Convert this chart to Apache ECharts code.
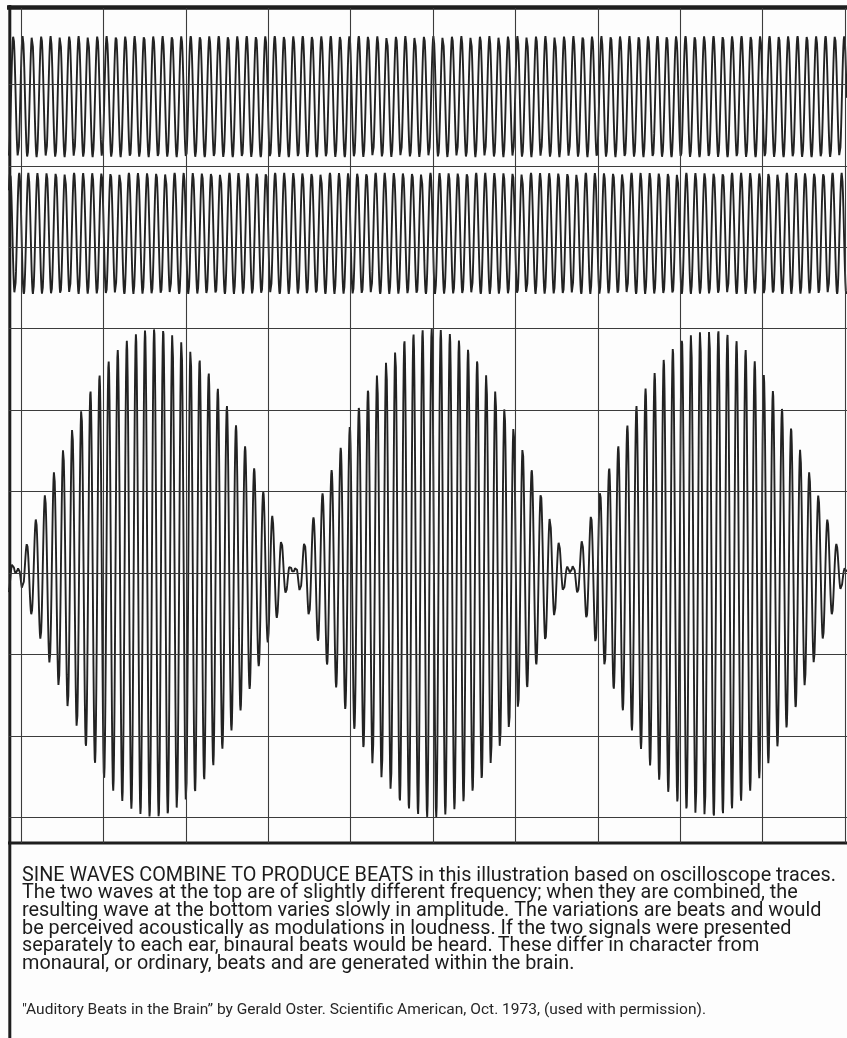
<!DOCTYPE html>
<html>
<head>
<meta charset="utf-8">
<script src="https://cdn.jsdelivr.net/npm/echarts@6/dist/echarts.min.js"></script>
<style>
  html, body { margin: 0; padding: 0; background: #fdfdfd; }
  #chart { width: 847px; height: 1038px; }
</style>
</head>
<body>
<div id="chart"></div>
<script>
// ---- data (units: oscilloscope divisions) ----
const verticalGridDivs = [0, 1, 2, 3, 4, 5, 6, 7, 8, 9, 10];
const horizontalGridDivs = [-3, -2, -1, 0, 1, 2, 3, 4, 5, 6];
const traceNames = ['Wave 1', 'Wave 2', 'Wave 1 + Wave 2'];
// two separate traces at the top
const topTraceCenters = [5.85, 4.17];
const topTraceAmplitudes = [0.743, 0.743];
const topTracePeriods = [0.1133, 0.1109];
const topTraceFirstPeak = [-0.093, -0.021];
// combined trace at the bottom (two components, in phase at one envelope maximum)
const beatComponentPeriods = [0.11228, 0.10865];
const beatComponentAmplitudes = [1.5, 1.5];
const beatInPhaseAt = 4.984;
const beatCenter = 0;
const captionLines = [
  'SINE WAVES COMBINE TO PRODUCE BEATS in this illustration based on oscilloscope traces.',
  'The two waves at the top are of slightly different frequency; when they are combined, the',
  'resulting wave at the bottom varies slowly in amplitude. The variations are beats and would',
  'be perceived acoustically as modulations in loudness. If the two signals were presented',
  'separately to each ear, binaural beats would be heard. These differ in character from',
  'monaural, or ordinary, beats and are generated within the brain.'
];
const citation = '"Auditory Beats in the Brain\u201D by Gerald Oster. Scientific American, Oct. 1973, (used with permission).';

// ---- layout ----
const X_MIN = -0.1456, X_MAX = 10.024;
const Y_MIN = -3.315, Y_MAX = 6.938;
const STEP = 0.005;

const xs = [];
for (let x = X_MIN; x <= X_MAX + 1e-9; x += STEP) xs.push(x);

function topTrace(i) {
  return xs.map(x => [x, topTraceCenters[i] +
    topTraceAmplitudes[i] * Math.cos(2 * Math.PI * (x - topTraceFirstPeak[i]) / topTracePeriods[i])]);
}
function beatTrace() {
  return xs.map(x => {
    let y = beatCenter;
    for (let k = 0; k < beatComponentPeriods.length; k++) {
      y += beatComponentAmplitudes[k] * Math.cos(2 * Math.PI * (x - beatInPhaseAt) / beatComponentPeriods[k]);
    }
    return [x, y];
  });
}

const traceStyle = { color: '#222222', width: 1.9 };
const gridLineStyle = { color: '#3c3c3c', width: 1.1, type: 'solid' };

const measureCtx = document.createElement('canvas').getContext('2d');
function fitScale(text, font, width) {
  measureCtx.font = font;
  return width / measureCtx.measureText(text).width;
}
const captionFont = '19.5px Roboto';
const citeFont = '14.5px Roboto';
const capScale = fitScale(captionLines[0], captionFont, 814);
const citeScale = fitScale(citation, citeFont, 684);

const graphics = [];
captionLines.forEach((t, i) => {
  graphics.push({
    type: 'text', x: 22, y: 876 + i * 17.6, scaleX: capScale, silent: true,
    style: { text: t, font: captionFont, fill: '#1c1c1c', verticalAlign: 'middle', align: 'left' }
  });
});
graphics.push({
  type: 'text', x: 22, y: 1010, scaleX: citeScale, silent: true,
  style: { text: citation, font: citeFont, fill: '#262626', verticalAlign: 'middle', align: 'left' }
});
// frame
graphics.push({ type: 'line', silent: true, shape: { x1: 7, y1: 7.5, x2: 847, y2: 7.5 }, style: { stroke: '#1e1e1e', lineWidth: 4.5 } });
graphics.push({ type: 'line', silent: true, shape: { x1: 9.8, y1: 5, x2: 9.8, y2: 1038 }, style: { stroke: '#1e1e1e', lineWidth: 3 } });
graphics.push({ type: 'line', silent: true, shape: { x1: 8, y1: 843, x2: 847, y2: 843 }, style: { stroke: '#1e1e1e', lineWidth: 3 } });

const chart = echarts.init(document.getElementById('chart'), null, { renderer: 'canvas' });
chart.setOption({
  animation: false,
  backgroundColor: '#fdfdfd',
  grid: { left: 9, right: 0, top: 8, bottom: 1038 - 843 },
  xAxis: { type: 'value', min: X_MIN, max: X_MAX, show: false },
  yAxis: { type: 'value', min: Y_MIN, max: Y_MAX, show: false },
  series: [
    {
      name: 'grid', type: 'line', data: [], silent: true,
      markLine: {
        silent: true, symbol: 'none', label: { show: false }, lineStyle: gridLineStyle,
        data: verticalGridDivs.map(v => ({ xAxis: v })).concat(horizontalGridDivs.map(v => ({ yAxis: v })))
      }
    },
    { name: traceNames[0], type: 'line', data: topTrace(0), showSymbol: false, symbol: 'none', lineStyle: traceStyle, sampling: null, silent: true, z: 3 },
    { name: traceNames[1], type: 'line', data: topTrace(1), showSymbol: false, symbol: 'none', lineStyle: traceStyle, sampling: null, silent: true, z: 3 },
    { name: traceNames[2], type: 'line', data: beatTrace(), showSymbol: false, symbol: 'none', lineStyle: traceStyle, sampling: null, silent: true, z: 3 }
  ],
  graphic: graphics
});
</script>
</body>
</html>
